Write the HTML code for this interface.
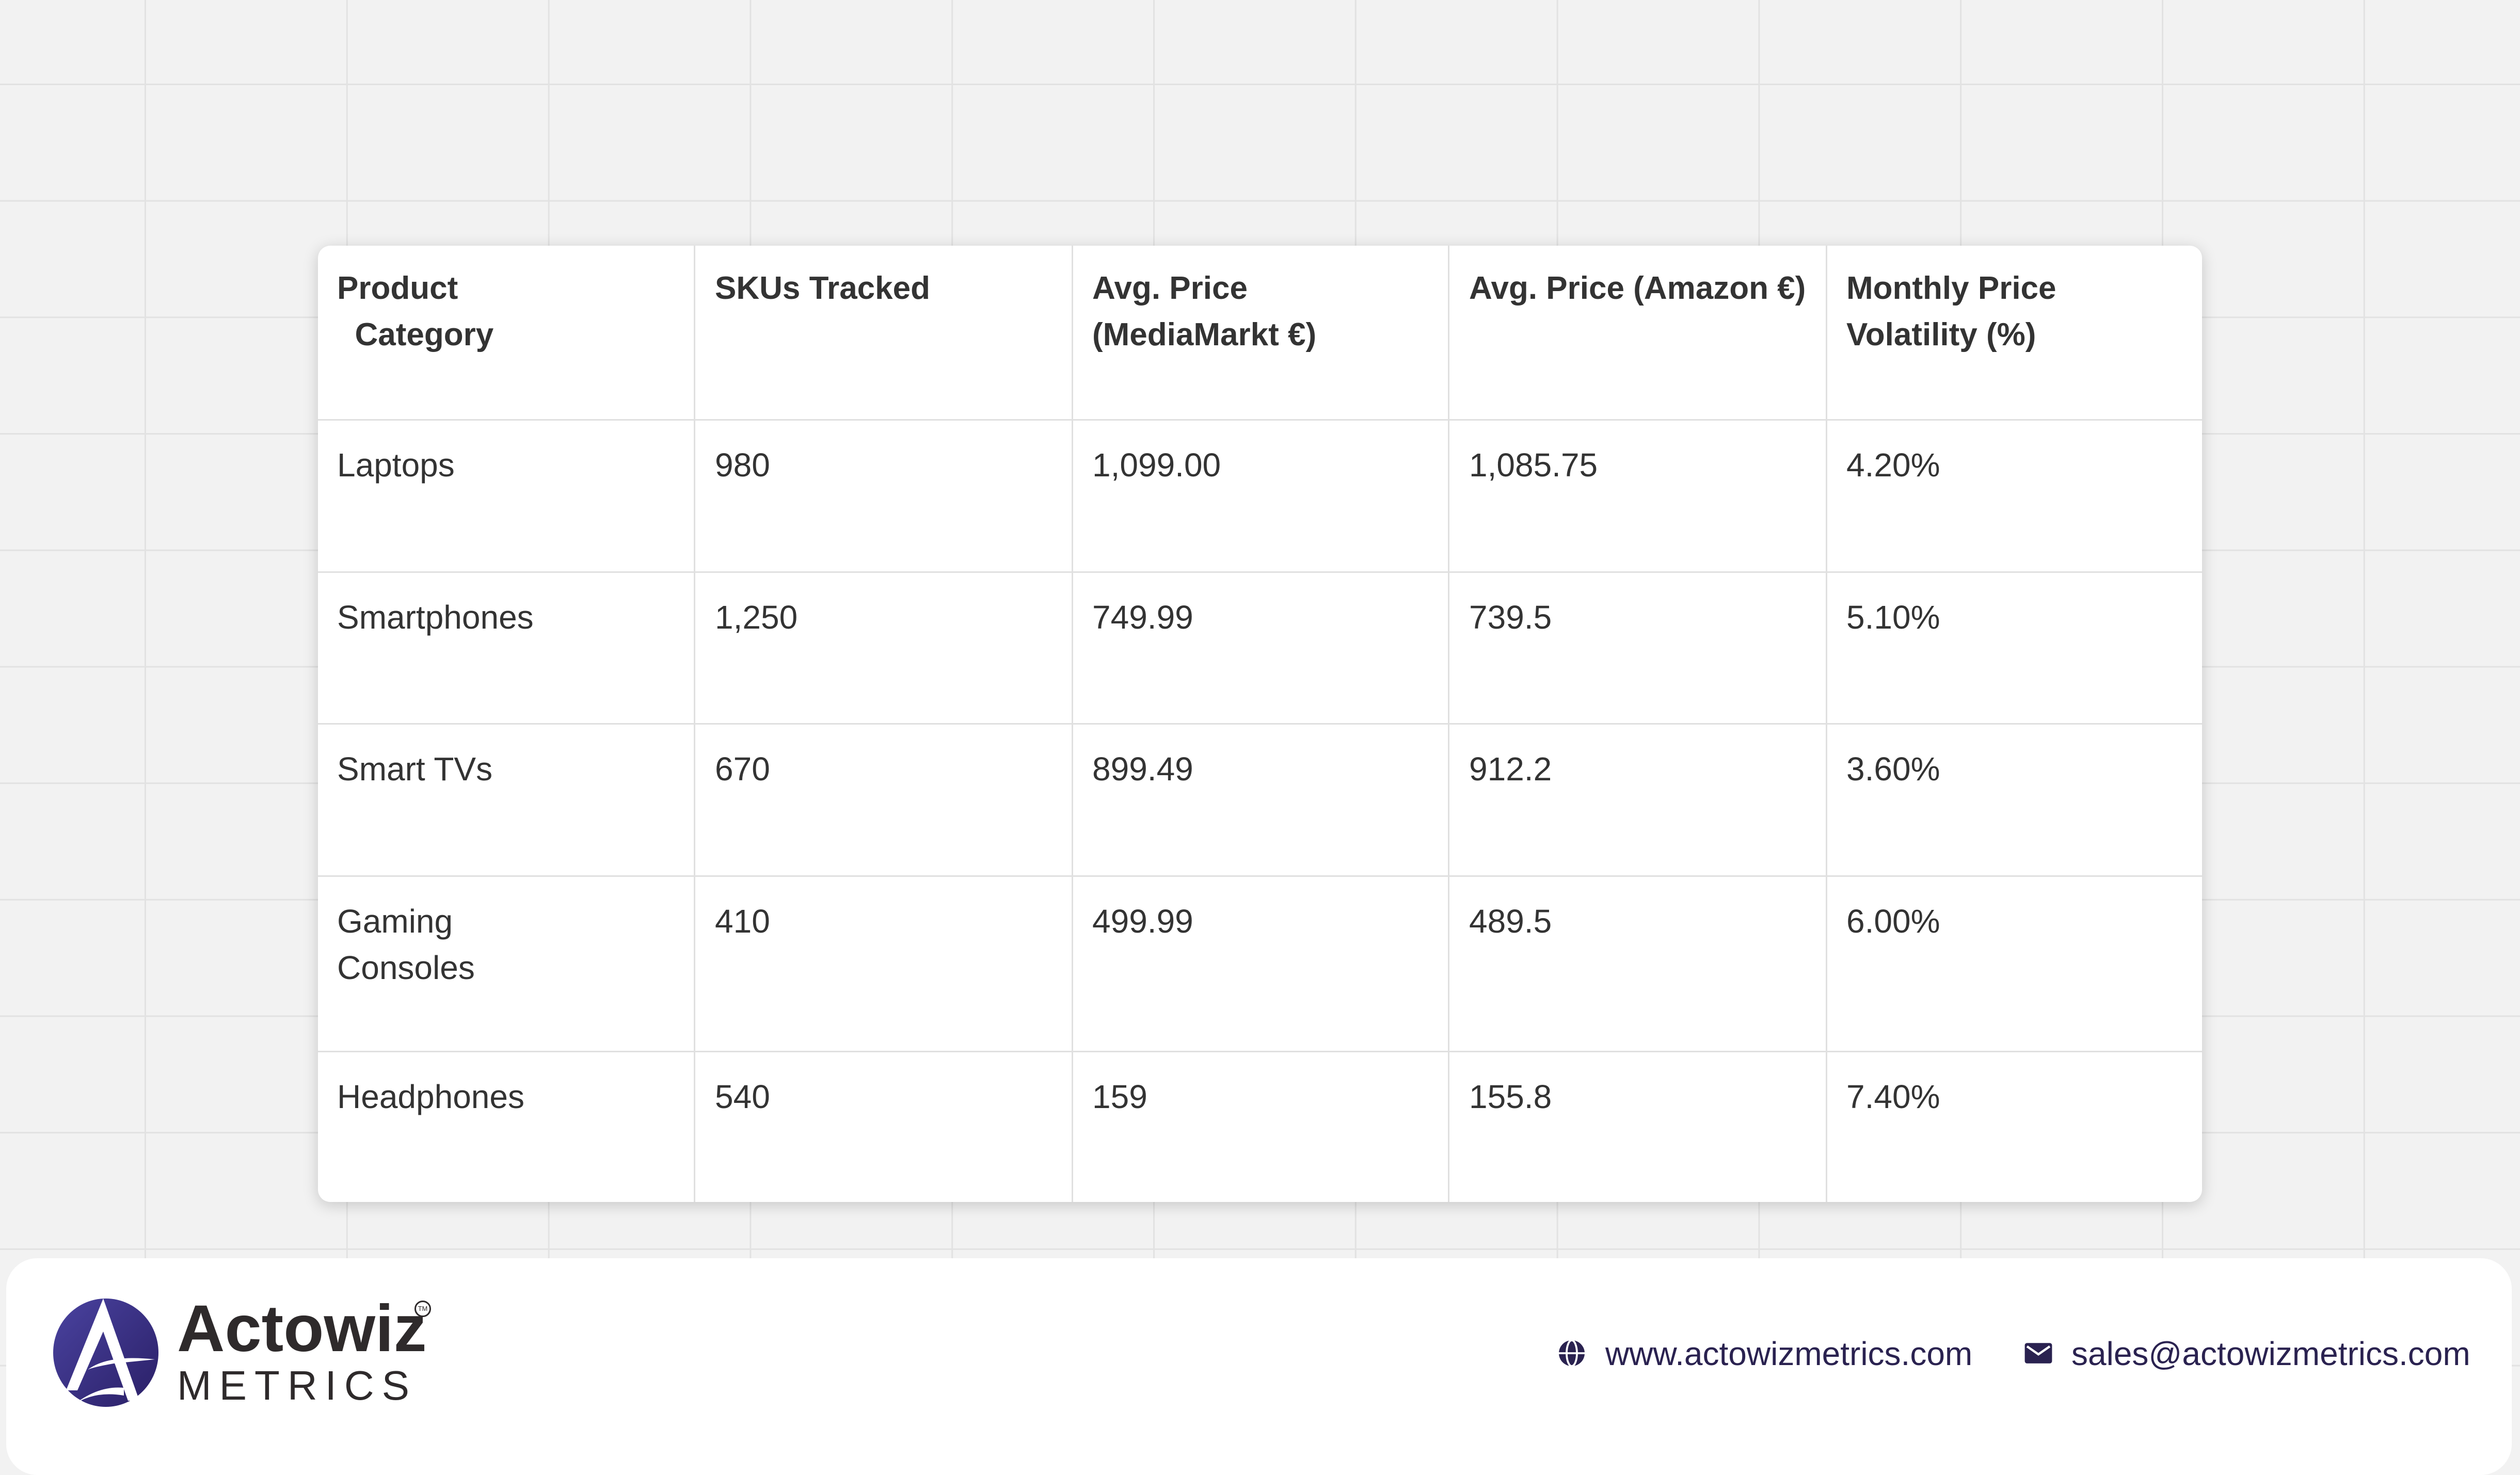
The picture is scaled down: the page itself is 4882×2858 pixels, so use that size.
<!DOCTYPE html>
<html><head><meta charset="utf-8"><style>
html,body{margin:0;padding:0}
body{width:4882px;height:2807px;position:relative;overflow:hidden;background:#f2f2f2;font-family:"Liberation Sans",Arial,sans-serif;color:#333}
.grid{position:absolute;inset:0;background-image:linear-gradient(to right,#e2e2e2 3px,transparent 3px),linear-gradient(to bottom,#e2e2e2 3px,transparent 3px);background-size:390.8px 225.7px;background-position:280px 162px}
.card{position:absolute;left:616px;top:476px;width:3650px;height:1853px;background:#fff;border-radius:24px;box-shadow:0 6px 30px rgba(0,0,0,.18);overflow:hidden}
.vl{position:absolute;top:0;bottom:0;width:3px;background:#e0e0e0}
.hl{position:absolute;left:0;right:0;height:3px;background:#e0e0e0}
.t{position:absolute;font-size:64px;line-height:90px;color:#333;white-space:nowrap}
.b{font-weight:bold;font-size:62px}
.footer{position:absolute;left:12px;top:2438px;width:4854px;height:420px;background:#fff;border-radius:60px}
.link{position:absolute;font-size:64px;color:#2a2250;top:2588px;line-height:70px}
</style></head><body>
<div class="grid"></div>
<div class="card">
<div class="vl" style="left:728px"></div>
<div class="vl" style="left:1460px"></div>
<div class="vl" style="left:2189px"></div>
<div class="vl" style="left:2921px"></div>
<div class="hl" style="top:336px"></div>
<div class="hl" style="top:631px"></div>
<div class="hl" style="top:925px"></div>
<div class="hl" style="top:1220px"></div>
<div class="hl" style="top:1560px"></div>

<div class="t b" style="left:37px;top:38px">Product<br>&nbsp;&nbsp;Category</div>
<div class="t b" style="left:769px;top:38px">SKUs Tracked</div>
<div class="t b" style="left:1500px;top:38px">Avg. Price<br>(MediaMarkt €)</div>
<div class="t b" style="left:2230px;top:38px">Avg. Price (Amazon €)</div>
<div class="t b" style="left:2961px;top:38px">Monthly Price<br>Volatility (%)</div>

<div class="t" style="left:37px;top:380px">Laptops</div>
<div class="t" style="left:769px;top:380px">980</div>
<div class="t" style="left:1500px;top:380px">1,099.00</div>
<div class="t" style="left:2230px;top:380px">1,085.75</div>
<div class="t" style="left:2961px;top:380px">4.20%</div>

<div class="t" style="left:37px;top:675px">Smartphones</div>
<div class="t" style="left:769px;top:675px">1,250</div>
<div class="t" style="left:1500px;top:675px">749.99</div>
<div class="t" style="left:2230px;top:675px">739.5</div>
<div class="t" style="left:2961px;top:675px">5.10%</div>

<div class="t" style="left:37px;top:969px">Smart TVs</div>
<div class="t" style="left:769px;top:969px">670</div>
<div class="t" style="left:1500px;top:969px">899.49</div>
<div class="t" style="left:2230px;top:969px">912.2</div>
<div class="t" style="left:2961px;top:969px">3.60%</div>

<div class="t" style="left:37px;top:1264px">Gaming<br>Consoles</div>
<div class="t" style="left:769px;top:1264px">410</div>
<div class="t" style="left:1500px;top:1264px">499.99</div>
<div class="t" style="left:2230px;top:1264px">489.5</div>
<div class="t" style="left:2961px;top:1264px">6.00%</div>

<div class="t" style="left:37px;top:1604px">Headphones</div>
<div class="t" style="left:769px;top:1604px">540</div>
<div class="t" style="left:1500px;top:1604px">159</div>
<div class="t" style="left:2230px;top:1604px">155.8</div>
<div class="t" style="left:2961px;top:1604px">7.40%</div>
</div>

<div class="footer"></div>
<svg style="position:absolute;left:100px;top:2514px" width="210" height="214" viewBox="0 0 210 214">
<defs><linearGradient id="g" x1="0" y1="0" x2="1" y2="1"><stop offset="0" stop-color="#4a43a0"/><stop offset="1" stop-color="#2a1f66"/></linearGradient></defs>
<ellipse cx="105" cy="107" rx="102" ry="105" fill="url(#g)"/>
<path d="M100 2 L28 180 L50 180 L100 66 L148 200 L170 200 Z" fill="#fff"/>
<path d="M70 140 Q110 110 200 120 L120 128 Q80 135 70 140Z" fill="#fff"/>
<path d="M40 210 Q80 180 140 190 L140 175 Q90 170 40 210Z" fill="#fff"/>
</svg>
<div style="position:absolute;left:343px;top:2500px;font-size:128px;font-weight:bold;color:#2e2a2b;line-height:150px">Actowiz</div>
<div style="position:absolute;left:803px;top:2520px;width:26px;height:26px;border:3px solid #2e2a2b;border-radius:50%;font-size:13px;line-height:26px;text-align:center;color:#2e2a2b">TM</div>
<div style="position:absolute;left:343px;top:2640px;font-size:80px;color:#2e2a2b;letter-spacing:15px;line-height:90px">METRICS</div>

<svg style="position:absolute;left:3015px;top:2592px" width="60" height="60" viewBox="0 0 24 24"><circle cx="12" cy="12" r="10" fill="#2a2250"/><g fill="none" stroke="#fff" stroke-width="1.5"><ellipse cx="12" cy="12" rx="4" ry="10"/><line x1="2" y1="12" x2="22" y2="12"/></g></svg>
<div class="link" style="left:3110px">www.actowizmetrics.com</div>
<svg style="position:absolute;left:3922px;top:2600px" width="54" height="44" viewBox="0 0 24 20"><rect x="0" y="1" width="24" height="18" rx="2" fill="#2a2250"/><path d="M2 4 L12 11 L22 4" fill="none" stroke="#fff" stroke-width="2"/></svg>
<div class="link" style="left:4013px">sales@actowizmetrics.com</div>
</body></html>
